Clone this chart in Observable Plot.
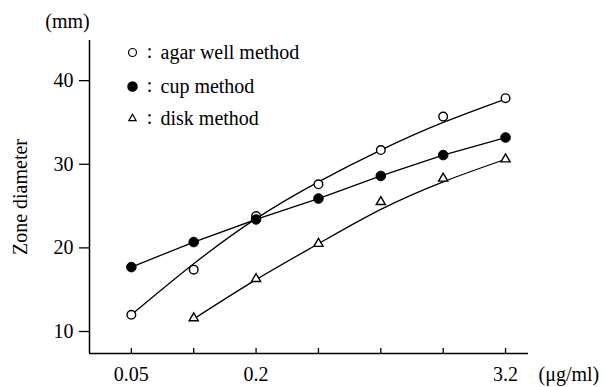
<!DOCTYPE html>
<html>
<head>
<meta charset="utf-8">
<script src="https://cdn.jsdelivr.net/npm/d3@7"></script>
<script src="https://cdn.jsdelivr.net/npm/@observablehq/plot@0.6"></script>
<style>
  html, body { margin: 0; padding: 0; background: #fff; }
</style>
</head>
<body>
<div id="chart"></div>
<script>
// Concentrations (µg/ml)
const conc = [0.05, 0.1, 0.2, 0.4, 0.8, 1.6, 3.2];
const labeledTicks = [0.05, 0.2, 0.8, 3.2];
const yTicks = [10, 20, 30, 40];

// Measured zone diameters (mm)
const agarWell = [12.0, 17.4, 23.8, 27.6, 31.7, 35.7, 37.9];
const cup      = [17.7, 20.7, 23.4, 25.9, 28.6, 31.1, 33.2];
const disk     = [null, 11.6, 16.3, 20.5, 25.5, 28.3, 30.6];

// Drawn (fitted) curves
const agarWellCurve = [12.0, 18.1, 23.5, 27.9, 31.7, 35.0, 37.8];
const diskCurve     = [null, 11.5, 16.2, 20.5, 24.6, 27.9, 30.6];

const seriesNames = ["agar well method", "cup method", "disk method"];

const toRows = (vals) => conc.map((c, i) => ({x: c, y: vals[i]})).filter(d => d.y != null);

const xDomain = [0.0314, 4.13];
const yDomain = [7.37, 44.8];
const W = 606, H = 387;
const mL = 89, mR = 78, mT = 40, mB = 34;
const pxPerUnit = (H - mT - mB) / (yDomain[1] - yDomain[0]);

const font = "'Liberation Serif', 'Times New Roman', serif";
const FS = 20;
const rowsY = [12, 46, 78];

const legendRow = (i, symbolMark) => [
  symbolMark,
  Plot.text([":"], {frameAnchor: "top-left", dx: 60, dy: rowsY[i] - 1, text: d => d, fontSize: FS, textAnchor: "middle", lineAnchor: "middle"}),
  Plot.text([seriesNames[i]], {frameAnchor: "top-left", dx: 71, dy: rowsY[i], text: d => d, fontSize: FS, textAnchor: "start", lineAnchor: "middle"})
];

const chart = Plot.plot({
  width: W,
  height: H,
  marginLeft: mL,
  marginRight: mR,
  marginTop: mT,
  marginBottom: mB,
  style: {fontFamily: font, fontSize: FS + "px", background: "white", color: "black"},
  x: {type: "log", domain: xDomain},
  y: {domain: yDomain},
  marks: [
    // axes
    Plot.ruleX([xDomain[0]], {stroke: "black", strokeWidth: 1.5}),
    Plot.ruleY([yDomain[0]], {stroke: "black", strokeWidth: 1.5}),
    Plot.axisY({ticks: yTicks, tickSize: 10, tickPadding: 6, fontSize: FS, label: null, strokeWidth: 1.3}),
    Plot.ruleX(conc, {x: d => d, y1: yDomain[0], y2: yDomain[0] + 5 / pxPerUnit, stroke: "black", strokeWidth: 1.3}),
    Plot.axisX({ticks: labeledTicks, tickSize: 0, tickPadding: 13, fontSize: FS, label: null,
      tickFormat: d => String(d), style: {letterSpacing: "1px"}}),
    // axis titles
    Plot.text(["Zone diameter"], {frameAnchor: "left", dx: -69, text: d => d, rotate: -90, fontSize: FS, textAnchor: "middle", lineAnchor: "middle", fill: "black"}),
    Plot.text(["(mm)"], {frameAnchor: "top-left", dx: -22, dy: -19, text: d => d, fontSize: FS, textAnchor: "middle", lineAnchor: "middle", fill: "black"}),
    Plot.text(["(\u03bcg/ml)"], {frameAnchor: "bottom-right", dx: 10, dy: 21, text: d => d, fontSize: FS, textAnchor: "start", lineAnchor: "middle", fill: "black"}),
    // lines
    Plot.line(toRows(agarWellCurve), {x: "x", y: "y", curve: "natural", stroke: "black", strokeWidth: 1.3}),
    Plot.line(toRows(cup), {x: "x", y: "y", curve: "linear", stroke: "black", strokeWidth: 1.3}),
    Plot.line(toRows(diskCurve), {x: "x", y: "y", curve: "natural", stroke: "black", strokeWidth: 1.3}),
    // points
    Plot.dot(toRows(agarWell), {x: "x", y: "y", r: 4.3, fill: "white", stroke: "black", strokeWidth: 1.4}),
    Plot.dot(toRows(cup), {x: "x", y: "y", r: 4.8, fill: "black", stroke: "black", strokeWidth: 1}),
    Plot.dot(toRows(disk), {x: "x", y: "y", r: 3.4, symbol: "triangle", fill: "white", stroke: "black", strokeWidth: 1.4}),
    // legend
    ...legendRow(0, Plot.dot([0], {frameAnchor: "top-left", dx: 43, dy: rowsY[0], r: 4, fill: "white", stroke: "black", strokeWidth: 1.2})),
    ...legendRow(1, Plot.dot([0], {frameAnchor: "top-left", dx: 43, dy: rowsY[1], r: 4.5, fill: "black", stroke: "black"})),
    ...legendRow(2, Plot.dot([0], {frameAnchor: "top-left", dx: 43, dy: rowsY[2], r: 2.7, symbol: "triangle", fill: "white", stroke: "black", strokeWidth: 1.2}))
  ]
});

document.getElementById("chart").appendChild(chart);
</script>
</body>
</html>
